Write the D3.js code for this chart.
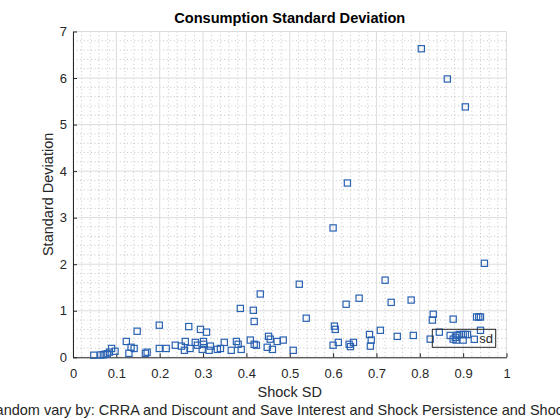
<!DOCTYPE html>
<html>
<head>
<meta charset="utf-8">
<script src="https://cdn.jsdelivr.net/npm/d3@7"></script>
<style>
  html, body { margin: 0; padding: 0; background: #fff; }
  svg { display: block; font-family: "Liberation Sans", Arial, sans-serif; }
</style>
</head>
<body>
<svg id="chart" width="560" height="420"></svg>
<script>
// ---- data ----
const shockSD = [
  0.048, 0.064, 0.070, 0.074, 0.079, 0.084, 0.089, 0.097,
  0.123, 0.129, 0.134, 0.141, 0.148, 0.167, 0.171,
  0.199, 0.199, 0.215, 0.236, 0.250, 0.259, 0.257, 0.267, 0.270,
  0.282, 0.287, 0.294, 0.301, 0.301, 0.298, 0.308, 0.314, 0.317,
  0.333, 0.340, 0.349, 0.365, 0.377, 0.381, 0.388, 0.386,
  0.409, 0.416, 0.418, 0.418, 0.423, 0.432,
  0.451, 0.455, 0.448, 0.460, 0.471, 0.485, 0.508, 0.522, 0.538,
  0.600, 0.633, 0.600, 0.603, 0.605, 0.612, 0.630, 0.637, 0.640, 0.647,
  0.660, 0.684, 0.688, 0.686, 0.709, 0.720, 0.734, 0.748, 0.780, 0.785,
  0.8035, 0.824, 0.831, 0.829, 0.845, 0.8635,
  0.870, 0.877, 0.877, 0.882, 0.886, 0.891, 0.884, 0.900, 0.900, 0.905, 0.910,
  0.905, 0.931, 0.936, 0.940, 0.940, 0.949
];
const consumptionSD = [
  0.045, 0.050, 0.055, 0.065, 0.075, 0.110, 0.190, 0.130,
  0.340, 0.086, 0.215, 0.190, 0.560, 0.086, 0.110,
  0.690, 0.190, 0.190, 0.260, 0.240, 0.340, 0.150, 0.660, 0.190,
  0.320, 0.260, 0.600, 0.340, 0.280, 0.170, 0.540, 0.150, 0.240,
  0.170, 0.190, 0.320, 0.150, 0.340, 0.280, 0.170, 1.050,
  0.370, 1.010, 0.770, 0.280, 0.260, 1.360,
  0.450, 0.390, 0.215, 0.170, 0.340, 0.370, 0.150, 1.570, 0.840,
  2.780, 3.745, 0.260, 0.670, 0.600, 0.320, 1.140, 0.280, 0.230, 0.320,
  1.270, 0.490, 0.370, 0.240, 0.580, 1.657, 1.180, 0.450, 1.230, 0.470,
  6.630, 0.390, 0.925, 0.800, 0.540, 5.980,
  0.470, 0.820, 0.390, 0.430, 0.470, 0.490, 0.370, 0.370, 0.490, 0.490, 0.490,
  5.380, 0.867, 0.867, 0.867, 0.580, 2.020
];
const xTicks = [0, 0.1, 0.2, 0.3, 0.4, 0.5, 0.6, 0.7, 0.8, 0.9, 1];
const xTickLabels = ["0", "0.1", "0.2", "0.3", "0.4", "0.5", "0.6", "0.7", "0.8", "0.9", "1"];
const yTicks = [0, 1, 2, 3, 4, 5, 6, 7];
const yTickLabels = ["0", "1", "2", "3", "4", "5", "6", "7"];
const xMinorStep = 0.02;
const yMinorStep = 0.2;
const titleText = "Consumption Standard Deviation";
const xLabelLines = ["Shock SD", "Random vary by: CRRA and Discount and Save Interest and Shock Persistence and Shock SD"];
const yLabelText = "Standard Deviation";
const legendLabel = "sd";

// ---- layout ----
const W = 560, H = 420;
const L = 73, R = 506.5, T = 31.5, B = 357.3;
const markerColor = "#2a62b2";
const axisColor = "#262626";

const svg = d3.select("#chart");
const x = d3.scaleLinear().domain([0, 1]).range([L, R]);
const y = d3.scaleLinear().domain([0, 7]).range([B, T]);

// minor grid
const xMinor = d3.range(0, 1 + 1e-9, xMinorStep).filter(v => Math.abs(v * 10 - Math.round(v * 10)) > 1e-6);
const yMinor = d3.range(0, 7 + 1e-9, yMinorStep).filter(v => Math.abs(v - Math.round(v)) > 1e-6);
const grid = svg.append("g");
grid.selectAll("line.xm").data(xMinor).join("line")
  .attr("x1", d => x(d)).attr("x2", d => x(d)).attr("y1", T).attr("y2", B)
  .attr("stroke", "#b8b8b8").attr("stroke-width", 0.8).attr("stroke-dasharray", "1,2.6");
grid.selectAll("line.ym").data(yMinor).join("line")
  .attr("y1", d => y(d)).attr("y2", d => y(d)).attr("x1", L).attr("x2", R)
  .attr("stroke", "#b8b8b8").attr("stroke-width", 0.8).attr("stroke-dasharray", "1,2.6");
// major grid
grid.selectAll("line.xM").data(xTicks).join("line")
  .attr("x1", d => x(d)).attr("x2", d => x(d)).attr("y1", T).attr("y2", B)
  .attr("stroke", "#dcdcdc").attr("stroke-width", 1);
grid.selectAll("line.yM").data(yTicks).join("line")
  .attr("y1", d => y(d)).attr("y2", d => y(d)).attr("x1", L).attr("x2", R)
  .attr("stroke", "#dcdcdc").attr("stroke-width", 1);

// axes
const xAxis = d3.axisBottom(x).tickValues(xTicks)
  .tickFormat((d, i) => xTickLabels[i]).tickSizeInner(-4).tickSizeOuter(0).tickPadding(11);
const yAxis = d3.axisLeft(y).tickValues(yTicks)
  .tickFormat((d, i) => yTickLabels[i]).tickSizeInner(-4).tickSizeOuter(0).tickPadding(6);

const gx = svg.append("g").attr("transform", `translate(0,${B})`).call(xAxis);
const gy = svg.append("g").attr("transform", `translate(${L},0)`).call(yAxis);
[gx, gy].forEach(g => {
  g.select(".domain").attr("stroke", axisColor).attr("stroke-width", 1);
  g.selectAll(".tick line").attr("stroke", axisColor);
  g.selectAll(".tick text").attr("fill", axisColor)
    .style("font-family", '"Liberation Sans", Arial, sans-serif').style("font-size", "13px");
});

// points
const pts = shockSD.map((v, i) => ({ sx: v, sy: consumptionSD[i] }));
const s = 6.2;
svg.append("g").selectAll("rect").data(pts).join("rect")
  .attr("x", d => x(d.sx) - s / 2).attr("y", d => y(d.sy) - s / 2)
  .attr("width", s).attr("height", s)
  .attr("fill", "none").attr("stroke", markerColor).attr("stroke-width", 1.2);

// title
svg.append("text").attr("x", (L + R) / 2).attr("y", 23).attr("text-anchor", "middle")
  .style("font-size", "14.6px").style("font-weight", "bold").attr("fill", "#000")
  .text(titleText);

// x label (two lines)
svg.append("g").selectAll("text").data(xLabelLines).join("text")
  .attr("x", (L + R) / 2).attr("y", (d, i) => 397 + i * 17.7).attr("text-anchor", "middle")
  .style("font-size", "14.5px").attr("fill", axisColor).text(d => d);

// y label
svg.append("text").attr("transform", `translate(53,${(T + B) / 2}) rotate(-90)`)
  .attr("text-anchor", "middle").style("font-size", "14.5px").attr("fill", axisColor)
  .text(yLabelText);

// legend
const lg = svg.append("g").attr("transform", "translate(432.3,329.3)");
lg.append("rect").attr("width", 63.4).attr("height", 18).attr("fill", "none")
  .attr("stroke", "#262626").attr("stroke-width", 1);
lg.append("rect").attr("x", 42 - s / 2).attr("y", 10 - s / 2).attr("width", s).attr("height", s)
  .attr("fill", "none").attr("stroke", markerColor).attr("stroke-width", 1.2);
lg.append("text").attr("x", 47).attr("y", 14.2).style("font-size", "13px")
  .attr("fill", axisColor).text(legendLabel);
</script>
</body>
</html>
